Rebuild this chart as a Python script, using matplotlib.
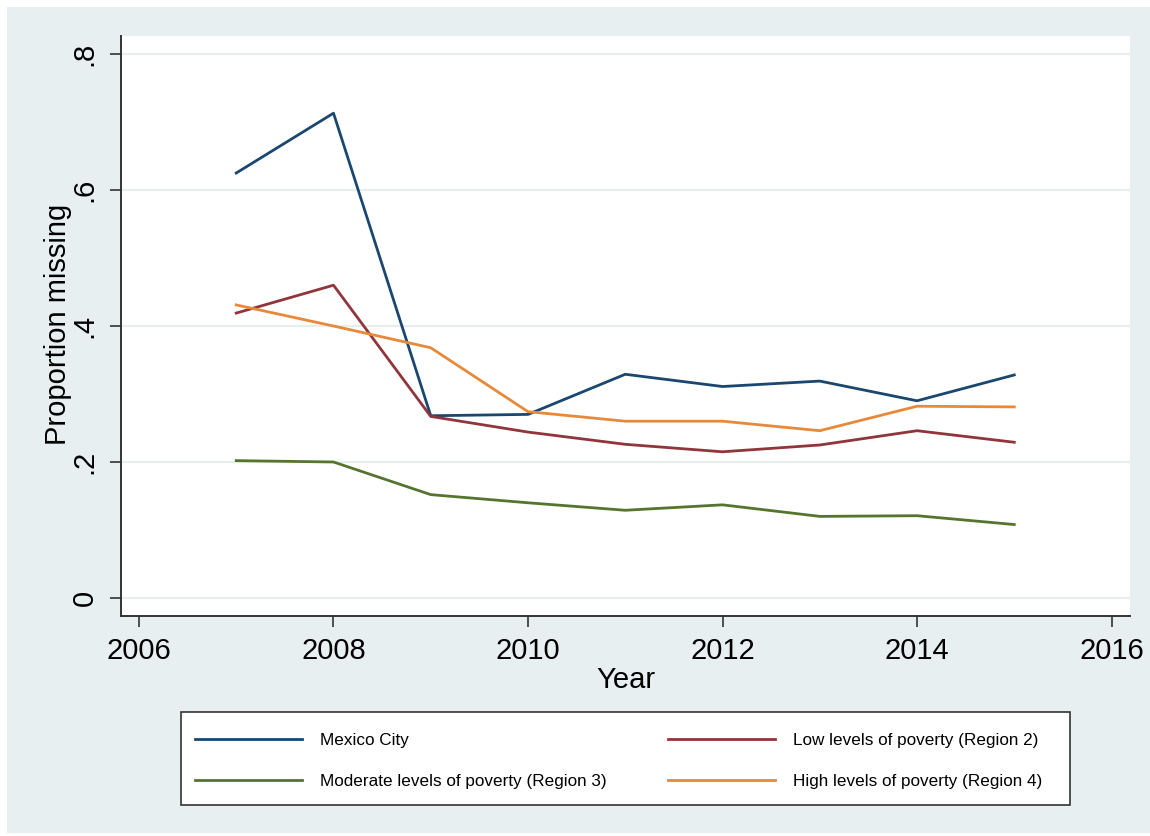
import matplotlib
matplotlib.use("Agg")
import matplotlib.pyplot as plt
from matplotlib.patches import Rectangle

plt.rcParams['font.family'] = ['Liberation Sans', 'DejaVu Sans']

years = [2007, 2008, 2009, 2010, 2011, 2012, 2013, 2014, 2015]
mexico_city = [0.625, 0.713, 0.268, 0.270, 0.329, 0.311, 0.319, 0.290, 0.328]
region2_low = [0.419, 0.460, 0.267, 0.244, 0.226, 0.215, 0.225, 0.246, 0.229]
region3_moderate = [0.202, 0.200, 0.152, 0.140, 0.129, 0.137, 0.120, 0.121, 0.108]
region4_high = [0.431, 0.400, 0.368, 0.274, 0.260, 0.260, 0.246, 0.282, 0.281]

labels = ["Mexico City", "Low levels of poverty (Region 2)",
          "Moderate levels of poverty (Region 3)", "High levels of poverty (Region 4)"]
x_ticks = [2006, 2008, 2010, 2012, 2014, 2016]
y_ticks = [0, 0.2, 0.4, 0.6, 0.8]
y_tick_labels = ["0", ".2", ".4", ".6", ".8"]

W, H = 1150, 836
fig = plt.figure(figsize=(W / 100, H / 100), dpi=100, facecolor='white')
bg = '#e8eff0'
fig.patches.append(Rectangle((7 / W, 1 - 833 / H), (1150 - 7) / W, (833 - 7) / H,
                             transform=fig.transFigure, facecolor=bg, edgecolor='none', zorder=-10))

ax = fig.add_axes([121 / W, 1 - 616 / H, (1130 - 121) / W, (616 - 36) / H])
ax.set_facecolor('white')

c_navy = '#1a476f'
c_maroon = '#90353b'
c_green = '#55752f'
c_orange = '#e8893a'

l1, = ax.plot(years, mexico_city, color=c_navy, lw=2.0, label=labels[0])
l2, = ax.plot(years, region2_low, color=c_maroon, lw=2.0, label=labels[1])
l3, = ax.plot(years, region3_moderate, color=c_green, lw=2.0, label=labels[2])
l4, = ax.plot(years, region4_high, color=c_orange, lw=2.0, label=labels[3])

ax.set_xlim(2005.815, 2016.19)
ax.set_ylim(-0.0265, 0.8265)
ax.set_xticks(x_ticks)
ax.set_yticks(y_ticks)
ax.set_yticklabels(y_tick_labels)
ax.grid(axis='y', color='#e6eeee', lw=1.6)
ax.set_axisbelow(True)

for s in ['top', 'right']:
    ax.spines[s].set_visible(False)
for s in ['left', 'bottom']:
    ax.spines[s].set_color('#333333')
    ax.spines[s].set_linewidth(1.4)

ax.tick_params(axis='both', length=8, width=1.2, color='#333333', labelsize=21)
ax.tick_params(axis='x', pad=7)
ax.tick_params(axis='y', pad=8)
for t in ax.get_yticklabels():
    t.set_rotation(90)
    t.set_va('center')

ax.set_xlabel('Year', fontsize=21, labelpad=1)
ax.set_ylabel('Proportion missing', fontsize=21)
ax.yaxis.set_label_coords(-0.0486, 0.503)

# legend box
fig.patches.append(Rectangle((181 / W, 1 - 805 / H), (1070 - 181) / W, (805 - 712) / H,
                             transform=fig.transFigure, facecolor='white',
                             edgecolor='#333333', lw=1.2, zorder=1))
leg = fig.legend([l1, l3, l2, l4], [labels[0], labels[2], labels[1], labels[3]],
                 ncol=2, loc='upper left', bbox_to_anchor=(195 / W, 1 - 733 / H),
                 frameon=False, fontsize=12.3, handlelength=6.26, handletextpad=1.05,
                 columnspacing=3.6, labelspacing=1.5, borderaxespad=0, borderpad=0)
leg.set_zorder(2)

fig.savefig('out.png', dpi=100, facecolor='white')
